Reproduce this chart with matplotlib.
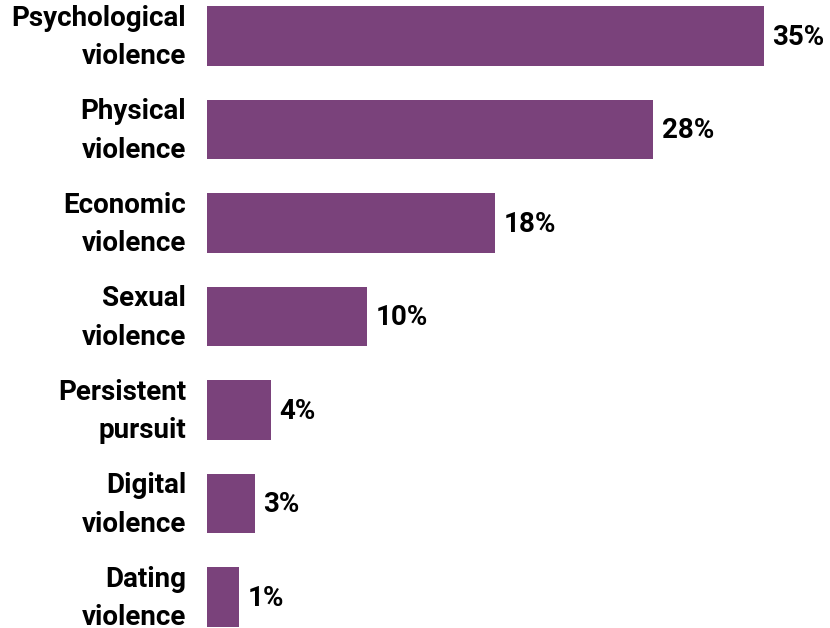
import matplotlib
matplotlib.use("Agg")
import matplotlib.pyplot as plt
import numpy as np

plt.rcParams.update({"font.family": "Roboto", "font.weight": "bold"})

PURPLE = "#7a427b"

categories = ["Psychological\nviolence", "Physical\nviolence", "Economic\nviolence",
              "Sexual\nviolence", "Persistent\npursuit", "Digital\nviolence",
              "Dating\nviolence"]
values = [34.8, 27.9, 18.0, 10.0, 4.0, 3.0, 2.0]
labels = ["35%", "28%", "18%", "10%", "4%", "3%", "1%"]

fig = plt.figure(figsize=(8.3, 6.28), dpi=100)
ax = fig.add_axes([207 / 830, 0, 1 - 207 / 830, 1])

y = np.arange(len(values))
ax.barh(y, values, height=0.64, color=PURPLE, zorder=3)
for yi, v, lab in zip(y, values, labels):
    ax.annotate(lab, xy=(v, yi), xytext=(6, -1), textcoords="offset points",
                ha="left", va="center", fontsize=20, fontweight="bold",
                color="black")
for yi, cat in zip(y, categories):
    ax.annotate(cat, xy=(0, yi), xycoords=("axes fraction", "data"),
                xytext=(-15, -1), textcoords="offset points",
                ha="right", va="center", fontsize=20, fontweight="bold",
                linespacing=1.55, color="black", annotation_clip=False)

ax.set_xlim(0, (830 - 207) / 16.0)
ax.set_ylim(6 + 31 / 93.5, -36 / 93.5)
ax.set_yticks([])
ax.set_xticks([])
for s in ax.spines.values():
    s.set_visible(False)

fig.savefig("out.png", dpi=100)
